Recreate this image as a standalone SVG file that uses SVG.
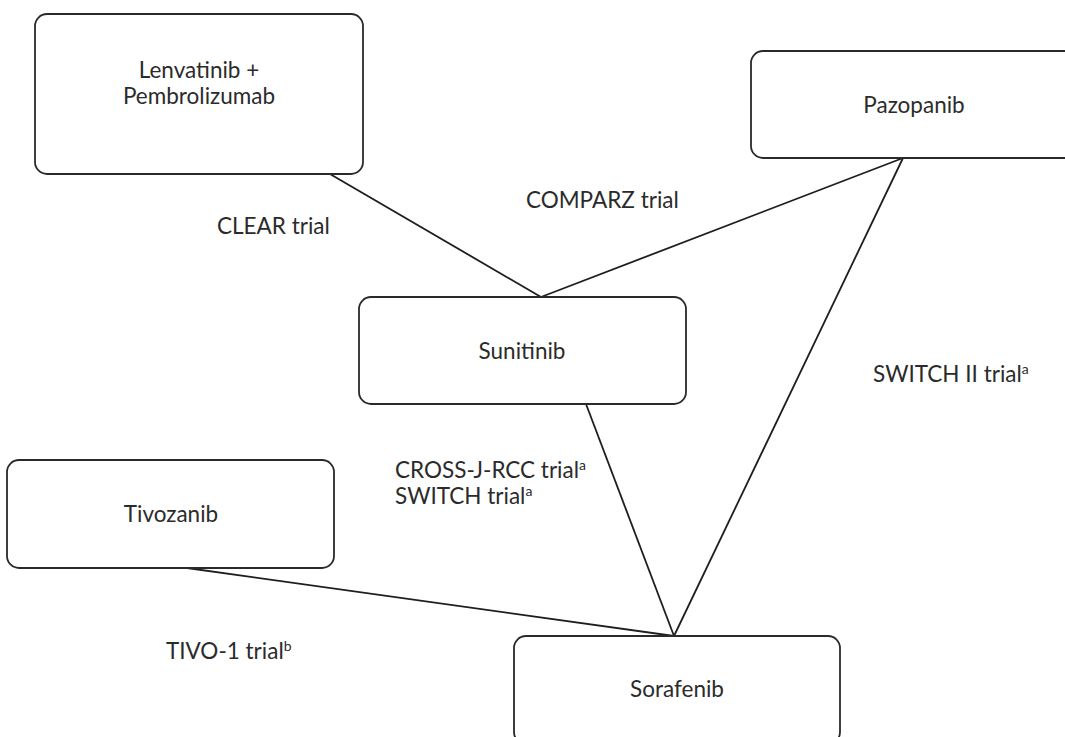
<svg xmlns="http://www.w3.org/2000/svg" width="1065" height="737" viewBox="0 0 1065 737">
<style>
.node rect{fill:#fff;stroke:#2a2a2a;stroke-width:1.8}
text{font-family:Lato,"Liberation Sans",sans-serif;font-size:22.5px;fill:#2b2b2b}
.n{text-anchor:middle}
.sup{font-size:14px}
#connectors line{stroke:#1e1e1e;stroke-width:1.8}
</style>
<rect width="1065" height="737" fill="#fff"/>
<g id="connectors">
<line x1="330" y1="174" x2="541" y2="297"/>
<line x1="903" y1="158" x2="541" y2="297"/>
<line x1="903" y1="158" x2="674" y2="636"/>
<line x1="586" y1="404" x2="674" y2="636"/>
<line x1="187" y1="568" x2="674" y2="636"/>
</g>
<g id="lenvatinib" class="node">
<rect x="35" y="14" width="328" height="160" rx="12"/>
<text class="n" x="199" y="78">Lenvatinib +</text>
<text class="n" x="199" y="104">Pembrolizumab</text>
</g>
<g id="pazopanib" class="node">
<rect x="751" y="51" width="328" height="107" rx="12"/>
<text class="n" x="914" y="113">Pazopanib</text>
</g>
<g id="sunitinib" class="node">
<rect x="359" y="297" width="327" height="107" rx="12"/>
<text class="n" x="522" y="359">Sunitinib</text>
</g>
<g id="tivozanib" class="node">
<rect x="7" y="460" width="327" height="108" rx="12"/>
<text class="n" x="171" y="522">Tivozanib</text>
</g>
<g id="sorafenib" class="node">
<rect x="514" y="636" width="326" height="108" rx="12"/>
<text class="n" x="677" y="697">Sorafenib</text>
</g>
<g id="labels">
<text x="217" y="234">CLEAR trial</text>
<text x="526" y="208">COMPARZ trial</text>
<text x="873" y="382">SWITCH II trial<tspan class="sup" dy="-8">a</tspan></text>
<text x="395" y="478">CROSS-J-RCC trial<tspan class="sup" dy="-8">a</tspan></text>
<text x="395" y="504">SWITCH trial<tspan class="sup" dy="-8">a</tspan></text>
<text x="166" y="659">TIVO-1 trial<tspan class="sup" dy="-8">b</tspan></text>
</g>
</svg>
